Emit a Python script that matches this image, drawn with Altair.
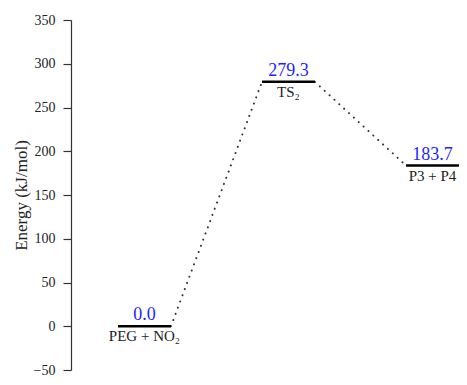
import altair as alt
import pandas as pd

# data
states = ["PEG + NO₂", "TS₂", "P3 + P4"]
energies = [0.0, 279.3, 183.7]
energy_labels = ["0.0", "279.3", "183.7"]
positions = [0, 1, 2]
half_width = 0.184

FONT = "Liberation Serif"

levels = pd.DataFrame({
    "state": states,
    "energy": energies,
    "elabel": energy_labels,
    "x0": [p - half_width for p in positions],
    "x1": [p + half_width for p in positions],
    "xc": positions,
})

conn_rows = []
for i in range(len(positions) - 1):
    conn_rows.append({"seg": i, "x": positions[i] + half_width, "y": energies[i]})
    conn_rows.append({"seg": i, "x": positions[i + 1] - half_width, "y": energies[i + 1]})
conn = pd.DataFrame(conn_rows)

xscale = alt.Scale(domain=[-0.510, 2.184], nice=False, zero=False)
yscale = alt.Scale(domain=[-50, 350], nice=False, zero=False)

yaxis = alt.Axis(
    title="Energy (kJ/mol)",
    values=list(range(-50, 351, 25)),
    labelExpr="datum.value % 50 === 0 ? datum.label : ''",
    labelOverlap=False,
    tickSize={"condition": {"test": "datum.value % 50 === 0", "value": 8}, "value": 4},
    tickColor="#333333",
    domainColor="#333333",
    domainWidth=1.2,
    tickWidth=1.2,
    grid=False,
    labelFont=FONT,
    labelFontSize=14,
    labelColor="#222222",
    labelPadding=8,
    titleFont=FONT,
    titleFontSize=17,
    titleFontWeight="normal",
    titleColor="#222222",
    titlePadding=3,
)

lines = alt.Chart(conn).mark_line(
    strokeDash=[0.1, 6.5], strokeCap="round", strokeWidth=2, color="#333333"
).encode(
    x=alt.X("x:Q", scale=xscale, axis=None),
    y=alt.Y("y:Q", scale=yscale, axis=yaxis),
    detail="seg:N",
)

bars = alt.Chart(levels).mark_rule(strokeWidth=2.5, color="black").encode(
    x=alt.X("x0:Q", scale=xscale, axis=None),
    x2="x1:Q",
    y=alt.Y("energy:Q", scale=yscale),
)

top_text = alt.Chart(levels).mark_text(
    font=FONT, fontSize=18, color="#1f1fff", baseline="bottom", dy=-2
).encode(
    x=alt.X("xc:Q", scale=xscale, axis=None),
    y=alt.Y("energy:Q", scale=yscale),
    text="elabel:N",
)

bottom_text = alt.Chart(levels).mark_text(
    font=FONT, fontSize=15, color="#222222", baseline="top", dy=3
).encode(
    x=alt.X("xc:Q", scale=xscale, axis=None),
    y=alt.Y("energy:Q", scale=yscale),
    text="state:N",
)

chart = alt.layer(lines, bars, top_text, bottom_text).properties(
    width=388,
    height=350,
    autosize=alt.AutoSizeParams(type="none"),
    padding={"left": 63, "top": 12, "right": 0, "bottom": 7},
).configure_view(stroke=None)

chart.save("out.html", embed_options={"renderer": "svg", "actions": False})
